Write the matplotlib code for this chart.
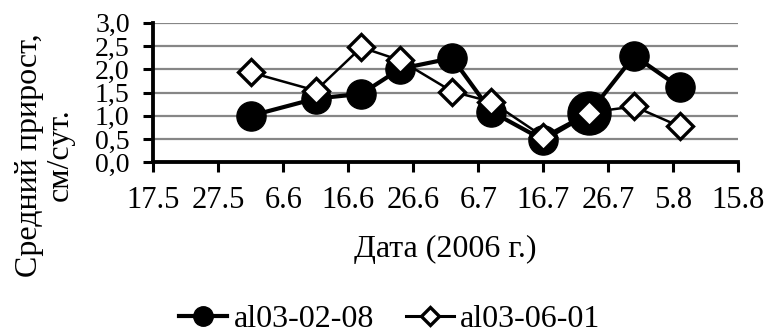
import matplotlib
matplotlib.use("Agg")
import matplotlib.pyplot as plt
from matplotlib.lines import Line2D
from matplotlib.ticker import FuncFormatter, MultipleLocator
import pandas as pd

plt.rcParams['font.family'] = ['Liberation Serif', 'DejaVu Serif']

# Data
dates = ["2006-06-01", "2006-06-11", "2006-06-18", "2006-06-24", "2006-07-02",
         "2006-07-08", "2006-07-16", "2006-07-23", "2006-07-30", "2006-08-06"]
s1_name = "al03-02-08"
s1_values = [1.00, 1.37, 1.47, 2.01, 2.24, 1.09, 0.48, 1.05, 2.29, 1.61]
s1_sizes = [21, 21, 21, 21, 21, 21, 21, 31, 21, 21]
s2_name = "al03-06-01"
s2_values = [1.93, 1.54, 2.47, 2.19, 1.52, 1.30, 0.55, 1.07, 1.20, 0.77]
x_start, x_end = "2006-05-17", "2006-08-15"
y_label = "Средний прирост,\nсм/сут."
x_label = "Дата (2006 г.)"

x = pd.to_datetime(dates)

fig = plt.figure(figsize=(7.7, 3.33), dpi=100)
ax = fig.add_axes([153.3/770, 1-162.3/333, (738.3-153.3)/770, (162.3-22.7)/333])

ax.plot(x, s1_values, color='black', lw=3, zorder=3)
for xi, yi, ms in zip(x, s1_values, s1_sizes):
    ax.plot([xi], [yi], marker='o', ms=ms, color='black', zorder=4)
ax.plot(x, s2_values, color='black', lw=1.8, marker='D', ms=13.5,
        mfc='white', mec='black', mew=2.4, zorder=5)

ax.set_xlim(pd.Timestamp(x_start), pd.Timestamp(x_end))
ax.set_ylim(0, 3.0)
ax.yaxis.set_major_locator(MultipleLocator(0.5))
ax.yaxis.set_major_formatter(FuncFormatter(lambda v, p: f"{v:.1f}".replace('.', ',')))
ticks = pd.date_range(x_start, x_end, freq='10D')
ax.set_xticks(ticks)
ax.set_xticklabels([f"{d.day}.{d.month}" for d in ticks])

ax.grid(axis='y', color='#868686', lw=1.6)
ax.set_axisbelow(True)
for s in ['top', 'right']:
    ax.spines[s].set_visible(False)
for s in ['left', 'bottom']:
    ax.spines[s].set_linewidth(2.75)
ax.tick_params(axis='both', direction='out', length=7, width=2.2, labelsize=22)
ax.tick_params(axis='y', pad=10, labelsize=20)
ax.tick_params(axis='x', pad=10)

fig.text(45/770, 1-155/333, y_label, rotation=90, ha='center', va='center',
         fontsize=23, multialignment='center', linespacing=1.1)
fig.text(445/770, 1-257/333, x_label, ha='center', va='baseline', fontsize=23)

h1 = Line2D([], [], color='black', lw=3, marker='o', ms=14)
h2 = Line2D([], [], color='black', lw=2.2, marker='D', ms=9, mfc='white', mew=2.4)
fig.legend([h1, h2], [s1_name, s2_name], loc='center', bbox_to_anchor=(390/770, 0.042),
           ncol=2, frameon=False, fontsize=23, handlelength=1.5, handletextpad=0.2,
           columnspacing=1.0, borderpad=0, borderaxespad=0)

fig.savefig("out.png", dpi=100)
